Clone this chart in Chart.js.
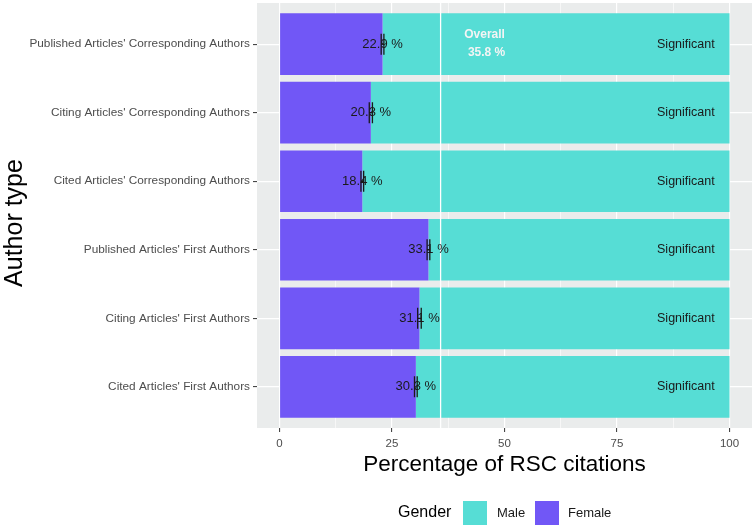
<!DOCTYPE html>
<html lang="en">
<head>
    <meta charset="UTF-8">
    <title>Percentage of RSC citations by author type</title>
    <script src="https://cdn.jsdelivr.net/npm/chart.js"></script>
    <style>
        html, body {
            margin: 0;
            padding: 0;
            background: #ffffff;
        }
        #wrap {
            width: 756px;
            height: 528px;
        }
    </style>
</head>
<body>
    <div id="wrap"><canvas id="rscChart" width="756" height="528"></canvas></div>

    <script>
        // data
        const authorTypes = [
            "Published Articles' Corresponding Authors",
            "Citing Articles' Corresponding Authors",
            "Cited Articles' Corresponding Authors",
            "Published Articles' First Authors",
            "Citing Articles' First Authors",
            "Cited Articles' First Authors"
        ];
        const femalePct = [22.9, 20.3, 18.4, 33.1, 31.1, 30.3];
        const malePct = femalePct.map(v => +(100 - v).toFixed(1));
        const ciHalf = [0.3, 0.35, 0.3, 0.3, 0.4, 0.3];
        const significance = ['Significant', 'Significant', 'Significant', 'Significant', 'Significant', 'Significant'];
        const overallPct = 35.8;
        const xTicks = [0, 25, 50, 75, 100];
        const xMinor = [12.5, 37.5, 62.5, 87.5];

        const FEMALE = '#7157F6';
        const MALE = '#56DDD5';
        const PANEL = '#EAECEC';
        const FONT = '"Liberation Sans", Arial, sans-serif';

        // grey panel + overall line + labels + error bars + legend
        const ggExtras = {
            id: 'ggExtras',
            beforeDraw(chart) {
                const { ctx, chartArea: a } = chart;
                ctx.save();
                ctx.fillStyle = PANEL;
                ctx.fillRect(a.left, a.top, a.right - a.left, a.bottom - a.top);
                ctx.restore();
            },
            afterDatasetsDraw(chart) {
                const { ctx, chartArea: a, scales: { x, y } } = chart;
                ctx.save();

                // overall reference line
                const ox = x.getPixelForValue(overallPct);
                ctx.strokeStyle = '#ffffff';
                ctx.lineWidth = 1.3;
                ctx.beginPath();
                ctx.moveTo(ox, a.top);
                ctx.lineTo(ox, a.bottom);
                ctx.stroke();

                ctx.fillStyle = '#f4f4f4';
                ctx.font = 'bold 12px ' + FONT;
                ctx.textAlign = 'center';
                ctx.textBaseline = 'middle';
                const y0 = y.getPixelForValue(0);
                ctx.fillText('Overall', ox + 44, y0 - 9);
                ctx.fillText(overallPct.toFixed(1) + ' %', ox + 46, y0 + 9);

                femalePct.forEach((v, i) => {
                    const py = y.getPixelForValue(i);
                    const px = x.getPixelForValue(v);

                    ctx.fillStyle = '#1a1a1a';
                    ctx.font = '13px ' + FONT;
                    ctx.textAlign = 'center';
                    ctx.fillText(v.toFixed(1) + ' %', px, py);

                    ctx.font = '12.5px ' + FONT;
                    ctx.fillText(significance[i], x.getPixelForValue(90.3), py);

                    // error bar
                    const lo = x.getPixelForValue(v - ciHalf[i]);
                    const hi = x.getPixelForValue(v + ciHalf[i]);
                    ctx.strokeStyle = '#1a1a1a';
                    ctx.lineWidth = 1.3;
                    ctx.beginPath();
                    ctx.moveTo(lo, py - 10.5); ctx.lineTo(lo, py + 10.5);
                    ctx.moveTo(hi, py - 10.5); ctx.lineTo(hi, py + 10.5);
                    ctx.moveTo(lo, py); ctx.lineTo(hi, py);
                    ctx.stroke();
                });

                ctx.restore();
            },
            afterDraw(chart) {
                const { ctx } = chart;
                ctx.save();

                // y axis title
                ctx.translate(15, 223);
                ctx.rotate(-Math.PI / 2);
                ctx.fillStyle = '#000000';
                ctx.font = '25px ' + FONT;
                ctx.textAlign = 'center';
                ctx.textBaseline = 'middle';
                ctx.fillText('Author type', 0, 0);
                ctx.setTransform(1, 0, 0, 1, 0, 0);

                // legend
                const cy = 513;
                ctx.textBaseline = 'middle';
                ctx.textAlign = 'left';
                ctx.fillStyle = '#000000';
                ctx.font = '16px ' + FONT;
                ctx.fillText('Gender', 398, cy);

                ctx.fillStyle = MALE;
                ctx.fillRect(463, cy - 12, 24, 24);
                ctx.fillStyle = FEMALE;
                ctx.fillRect(535, cy - 12, 24, 24);

                ctx.fillStyle = '#1a1a1a';
                ctx.font = '13px ' + FONT;
                ctx.fillText('Male', 497, cy);
                ctx.fillText('Female', 568, cy);
                ctx.restore();
            }
        };

        const config = {
            type: 'bar',
            data: {
                datasets: [
                    {
                        label: 'Female',
                        data: femalePct.map((v, i) => ({ x: v, y: i })),
                        backgroundColor: FEMALE,
                        stack: 'g',
                        barPercentage: 0.9,
                        categoryPercentage: 1
                    },
                    {
                        label: 'Male',
                        data: malePct.map((v, i) => ({ x: v, y: i })),
                        backgroundColor: MALE,
                        stack: 'g',
                        barPercentage: 0.9,
                        categoryPercentage: 1
                    }
                ]
            },
            options: {
                indexAxis: 'y',
                responsive: false,
                animation: false,
                layout: { padding: { top: 3, right: 4, bottom: 50, left: 0 } },
                plugins: {
                    legend: { display: false },
                    tooltip: { enabled: false }
                },
                scales: {
                    x: {
                        type: 'linear',
                        stacked: true,
                        min: -5,
                        max: 105,
                        afterBuildTicks: s => {
                            s.ticks = [...xTicks, ...xMinor].sort((a, b) => a - b).map(v => ({ value: v }));
                        },
                        afterFit: s => { s.height = 50; s.paddingLeft = 0; s.paddingRight = 0; },
                        border: { display: false },
                        grid: {
                            color: '#ffffff',
                            lineWidth: c => (xTicks.includes(c.tick.value) ? 1.2 : 0.6),
                            tickColor: c => (xTicks.includes(c.tick.value) ? '#333333' : 'rgba(0,0,0,0)'),
                            tickLength: 4,
                            tickWidth: 1
                        },
                        ticks: {
                            autoSkip: false,
                            maxRotation: 0,
                            padding: 5,
                            color: '#4d4d4d',
                            font: { family: FONT, size: 11.5 },
                            callback: v => (xTicks.includes(v) ? String(v) : '')
                        },
                        title: {
                            display: true,
                            text: 'Percentage of RSC citations',
                            color: '#000000',
                            font: { family: FONT, size: 22.5 },
                            padding: { top: 0, bottom: 0 }
                        }
                    },
                    y: {
                        type: 'linear',
                        reverse: true,
                        offset: false,
                        min: -0.6,
                        max: 5.6,
                        afterBuildTicks: s => {
                            s.ticks = authorTypes.map((_, i) => ({ value: i }));
                        },
                        afterFit: s => { s.width = 257; s.paddingTop = 0; s.paddingBottom = 0; },
                        border: { display: false },
                        grid: {
                            offset: false,
                            color: '#ffffff',
                            lineWidth: 1.2,
                            tickColor: '#333333',
                            tickLength: 4,
                            tickWidth: 1
                        },
                        ticks: {
                            autoSkip: false,
                            padding: 3,
                            color: '#4d4d4d',
                            font: { family: FONT, size: 11.8 },
                            callback: v => authorTypes[v]
                        },
                        title: { display: false }
                    }
                }
            },
            plugins: [ggExtras]
        };

        const rscChart = new Chart(document.getElementById('rscChart'), config);
    </script>
</body>
</html>
